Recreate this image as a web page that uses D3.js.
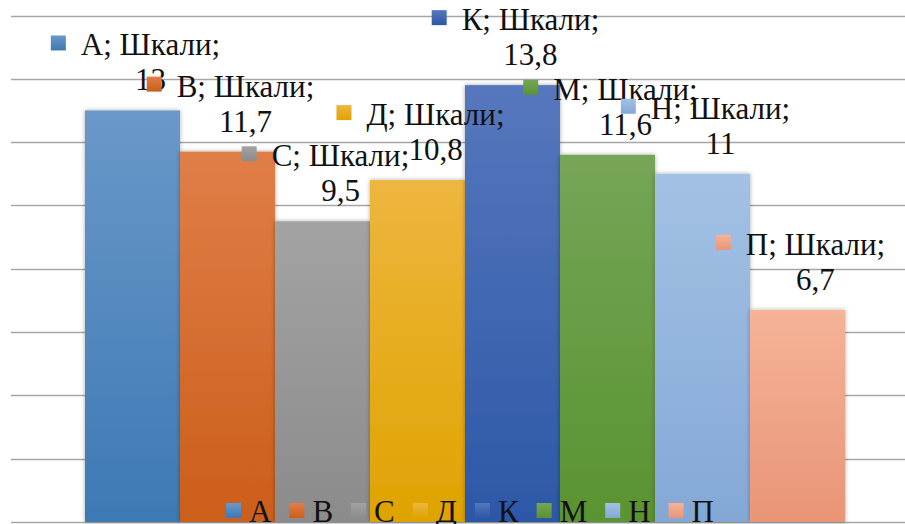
<!DOCTYPE html>
<html>
<head>
<meta charset="utf-8">
<script src="https://cdn.jsdelivr.net/npm/d3@7"></script>
<style>
  body { margin: 0; background: #fff; }
</style>
</head>
<body>
<div class="bar_chart"></div>
<script>
// data
const series = ["А", "В", "С", "Д", "К", "М", "Н", "П"];
const values = [13, 11.7, 9.5, 10.8, 13.8, 11.6, 11, 6.7];
const categoryName = "Шкали";
const yTicks = [0, 2, 4, 6, 8, 10, 12, 14, 16];
// gradient colours, top -> bottom
const colorsTop = ["#6a98c9", "#e07e48", "#a3a3a3", "#edb63e", "#5677bd", "#75a557", "#a3c1e4", "#f5b398"];
const colorsBottom = ["#3d79b4", "#cb5e1a", "#8b8b8b", "#dfa300", "#2c58a7", "#5a9331", "#84a8d6", "#e99576"];

const width = 905, height = 524;
const fontSize = 31;
const fontFamily = "'Liberation Serif', 'DejaVu Serif', 'Times New Roman', Times, serif";

const svg = d3.select(".bar_chart")
  .append("svg")
  .attr("width", width)
  .attr("height", height)
  .style("display", "block")
  .style("font-family", fontFamily);

const defs = svg.append("defs");

series.forEach((s, i) => {
  const g = defs.append("linearGradient")
    .attr("id", "grad" + i)
    .attr("x1", 0).attr("y1", 0).attr("x2", 0).attr("y2", 1);
  g.append("stop").attr("offset", "0%").attr("stop-color", colorsTop[i]);
  g.append("stop").attr("offset", "100%").attr("stop-color", colorsBottom[i]);
});

const shadow = defs.append("filter")
  .attr("id", "shadow")
  .attr("x", "-10%").attr("y", "-10%")
  .attr("width", "120%").attr("height", "120%");
shadow.append("feDropShadow")
  .attr("dx", 0).attr("dy", 0)
  .attr("stdDeviation", 2)
  .attr("flood-color", "#000")
  .attr("flood-opacity", 0.35);

const plotLeft = 11, plotRight = 919, plotTop = 15.5, plotBottom = 522;

const y = d3.scaleLinear().domain([0, 16]).range([plotBottom, plotTop]);
const x = d3.scaleBand()
  .domain(series)
  .range([plotLeft, plotRight])
  .paddingInner(0)
  .paddingOuter(0.779);

// gridlines
svg.append("g")
  .attr("class", "grid")
  .selectAll("line")
  .data(yTicks)
  .enter()
  .append("line")
  .attr("x1", plotLeft)
  .attr("x2", width)
  .attr("y1", (d) => Math.round(y(d)) + 0.5)
  .attr("y2", (d) => Math.round(y(d)) + 0.5)
  .attr("stroke", "#a6a6a6")
  .attr("stroke-width", 1.4);

// bars
svg.append("g")
  .attr("class", "bars")
  .selectAll("rect")
  .data(values)
  .enter()
  .append("rect")
  .attr("x", (d, i) => x(series[i]))
  .attr("y", (d) => y(d))
  .attr("width", x.bandwidth())
  .attr("height", (d) => y(0) - y(d))
  .attr("fill", (d, i) => "url(#grad" + i + ")")
  .attr("filter", "url(#shadow)");

// data labels (callout style with key)
const labels = svg.append("g").attr("class", "labels");
const sq = 15;

values.forEach((v, i) => {
  const cx = x(series[i]) + x.bandwidth() / 2 + 3;
  const top = y(v);
  const g = labels.append("g");

  const t1 = g.append("text")
    .attr("font-family", fontFamily)
    .attr("font-size", fontSize)
    .attr("fill", "#111")
    .attr("y", top - 55)
    .text(series[i] + "; " + categoryName + ";");
  const w1 = t1.node().getComputedTextLength();
  const x0 = cx - (sq + 15 + w1) / 2;
  t1.attr("x", x0 + sq + 15);

  g.insert("rect", "text")
    .attr("x", x0)
    .attr("y", top - 55 - 5 - sq)
    .attr("width", sq)
    .attr("height", sq)
    .attr("fill", "url(#grad" + i + ")");

  g.append("text")
    .attr("font-family", fontFamily)
    .attr("font-size", fontSize)
    .attr("fill", "#111")
    .attr("text-anchor", "middle")
    .attr("x", x0 + sq + 15 + w1 / 2)
    .attr("y", top - 20)
    .text(String(v).replace(".", ","));
});

// legend
const legend = svg.append("g").attr("class", "legend");
let lx = 0;
series.forEach((s, i) => {
  const it = legend.append("g");
  it.append("rect")
    .attr("x", 0)
    .attr("y", -19)
    .attr("width", sq)
    .attr("height", sq)
    .attr("fill", "url(#grad" + i + ")");
  const t = it.append("text")
    .attr("x", sq + 8)
    .attr("y", 0)
    .attr("font-family", fontFamily)
    .attr("font-size", fontSize)
    .attr("fill", "#111")
    .text(s);
  const w = sq + 8 + t.node().getComputedTextLength();
  it.attr("transform", "translate(" + lx + ",0)");
  lx += w + (i < series.length - 1 ? 18 : 0);
});
legend.attr("transform", "translate(" + (470 - lx / 2) + ",522)");
</script>
</body>
</html>
